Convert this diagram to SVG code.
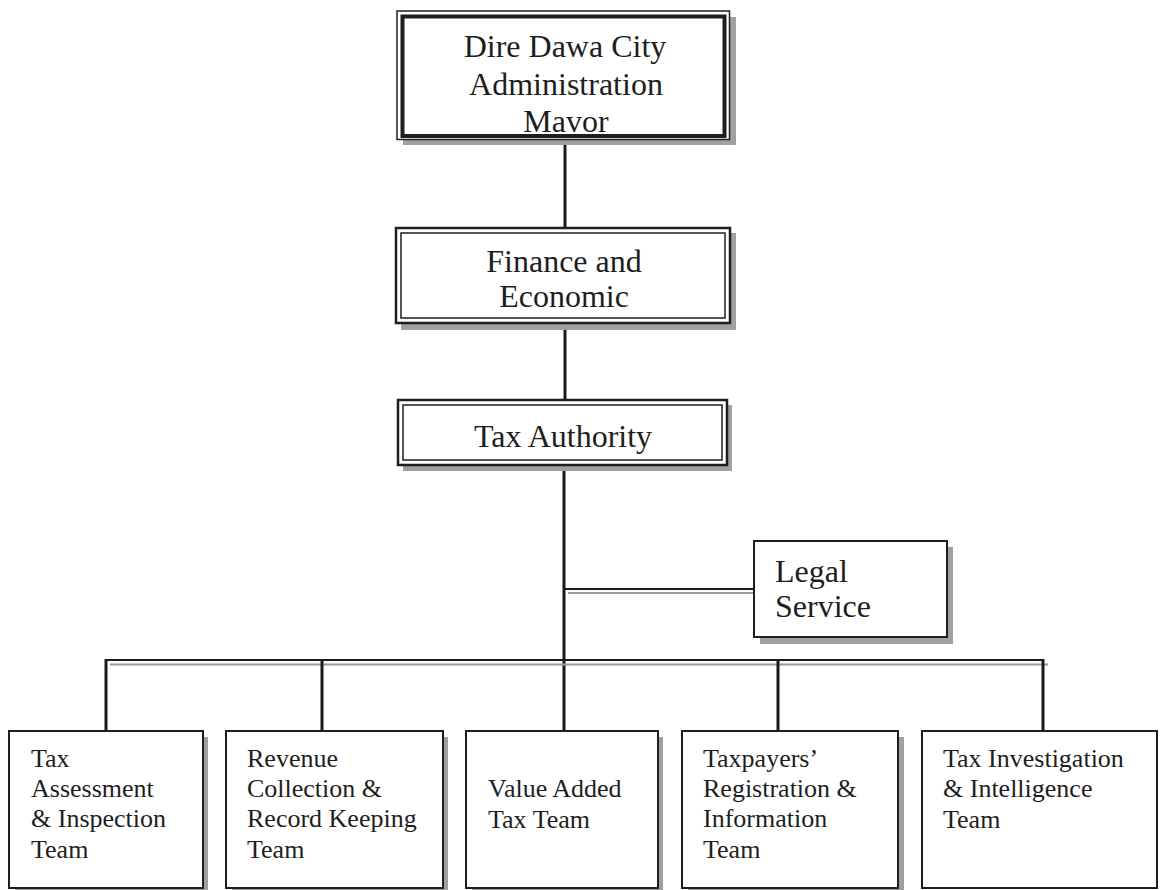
<svg xmlns="http://www.w3.org/2000/svg" width="1161" height="890" viewBox="0 0 1161 890">
<style>
.t{font-family:"Liberation Serif","Times New Roman",serif;fill:#1e1e1e}
.big{font-size:32px}
.sm{font-size:26px}
.sh{fill:#a0a0a0}
.box{fill:#fff;stroke:#1e1e1e}
.ln{stroke:#1a1a1a;stroke-width:3;fill:none}
.gl{stroke:#9a9a9a;stroke-width:2;fill:none}
</style>
<rect width="1161" height="890" fill="#fff"/>
<g id="connectors">
<line class="ln" x1="565" y1="139" x2="565" y2="228"/>
<line class="ln" x1="565" y1="323" x2="565" y2="400"/>
<line class="ln" x1="564" y1="465" x2="564" y2="732"/>
<line x1="565" y1="589" x2="754" y2="589" stroke="#1a1a1a" stroke-width="2"/>
<line class="gl" x1="568" y1="593" x2="760" y2="593"/>
<line x1="105" y1="660" x2="1044" y2="660" stroke="#1a1a1a" stroke-width="2"/>
<line class="gl" x1="110" y1="664.5" x2="1048" y2="664.5"/>
<line class="ln" x1="106" y1="659" x2="106" y2="731"/>
<line class="ln" x1="322" y1="659" x2="322" y2="731"/>
<line class="ln" x1="778" y1="659" x2="778" y2="731"/>
<line class="ln" x1="1043" y1="659" x2="1043" y2="731"/>
</g>
<g id="mayor">
<rect class="sh" x="403" y="17" width="333" height="128"/>
<rect class="box" x="397" y="11" width="332.5" height="128.5" stroke-width="1.5"/>
<rect x="402.5" y="16.5" width="322" height="119.5" fill="none" stroke="#1e1e1e" stroke-width="4"/>
<text class="t big" text-anchor="middle" x="565" y="57">Dire Dawa City</text>
<text class="t big" text-anchor="middle" x="566" y="95">Administration</text>
<text class="t big" text-anchor="middle" x="566" y="132">Mavor</text>
</g>
<g id="finance">
<rect class="sh" x="401" y="233" width="335" height="97"/>
<rect class="box" x="396" y="228" width="334" height="95" stroke-width="2.5"/>
<rect x="401" y="233" width="324" height="85" fill="none" stroke="#1e1e1e" stroke-width="1.5"/>
<text class="t big" text-anchor="middle" x="564" y="272">Finance and</text>
<text class="t big" text-anchor="middle" x="564" y="307">Economic</text>
</g>
<g id="tax-authority">
<rect class="sh" x="403" y="405" width="329" height="66"/>
<rect class="box" x="398" y="400" width="329" height="65" stroke-width="2.5"/>
<rect x="403" y="405" width="319" height="55" fill="none" stroke="#1e1e1e" stroke-width="1.5"/>
<text class="t big" text-anchor="middle" x="563" y="447">Tax Authority</text>
</g>
<g id="legal">
<rect class="sh" x="760" y="547" width="193" height="97"/>
<rect class="box" x="754" y="541" width="193" height="96" stroke-width="2"/>
<text class="t big" x="775" y="582">Legal</text>
<text class="t big" x="775" y="617">Service</text>
</g>
<g id="assessment">
<rect class="sh" x="15" y="737" width="193" height="160"/>
<rect class="box" x="9" y="731" width="194" height="157" stroke-width="2"/>
<text class="t sm" x="31" y="767">Tax</text>
<text class="t sm" x="31" y="797">Assessment</text>
<text class="t sm" x="31" y="827">&amp; Inspection</text>
<text class="t sm" x="31" y="858">Team</text>
</g>
<g id="revenue">
<rect class="sh" x="232" y="737" width="216" height="160"/>
<rect class="box" x="226" y="731" width="217" height="157" stroke-width="2"/>
<text class="t sm" x="247" y="767">Revenue</text>
<text class="t sm" x="247" y="797">Collection &amp;</text>
<text class="t sm" x="247" y="827">Record Keeping</text>
<text class="t sm" x="247" y="858">Team</text>
</g>
<g id="vat">
<rect class="sh" x="472" y="737" width="191" height="160"/>
<rect class="box" x="466" y="731" width="192" height="157" stroke-width="2"/>
<text class="t sm" x="488" y="797">Value Added</text>
<text class="t sm" x="488" y="828">Tax Team</text>
</g>
<g id="registration">
<rect class="sh" x="688" y="737" width="216" height="160"/>
<rect class="box" x="682" y="731" width="216" height="157" stroke-width="2"/>
<text class="t sm" x="703" y="767">Taxpayers’</text>
<text class="t sm" x="703" y="797">Registration &amp;</text>
<text class="t sm" x="703" y="827">Information</text>
<text class="t sm" x="703" y="858">Team</text>
</g>
<g id="investigation">
<rect class="box" x="922" y="731" width="235" height="157" stroke-width="2"/>
<text class="t sm" x="943" y="767">Tax Investigation</text>
<text class="t sm" x="943" y="797">&amp; Intelligence</text>
<text class="t sm" x="943" y="828">Team</text>
</g>
</svg>
